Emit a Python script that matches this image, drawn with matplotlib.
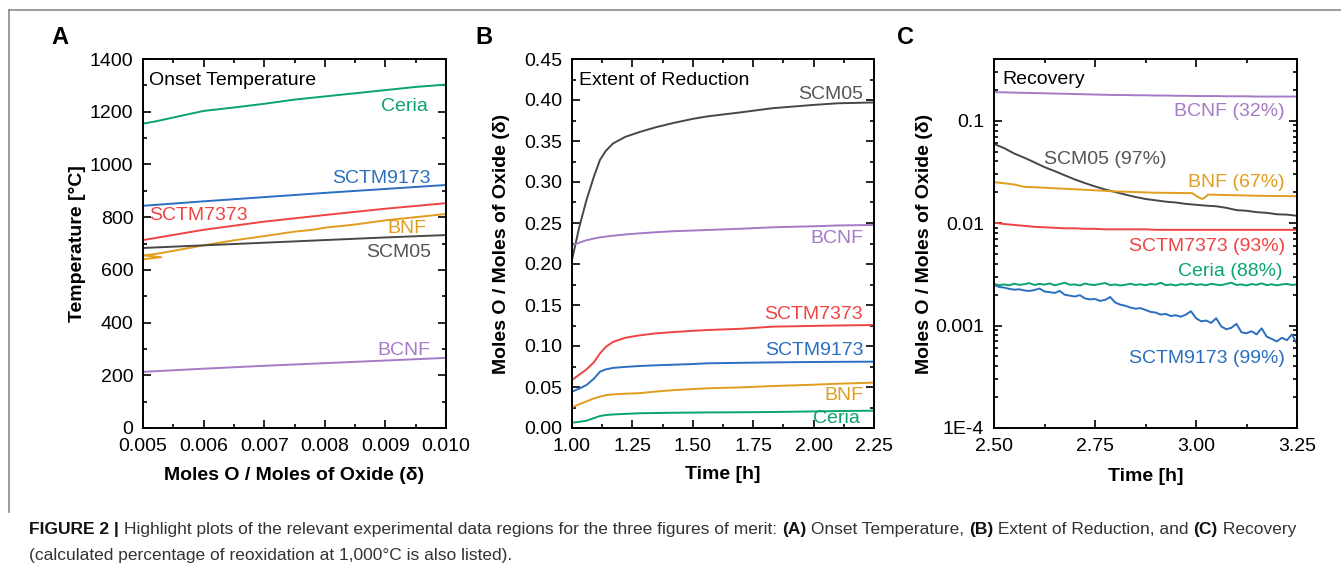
import matplotlib
matplotlib.use("Agg")
import matplotlib.pyplot as plt
from matplotlib.ticker import MultipleLocator, FixedLocator, NullFormatter, LogLocator
from matplotlib.lines import Line2D

plt.rcParams['font.family'] = ['Liberation Sans', 'DejaVu Sans']

# colours
col_ceria = '#0aa56b'
col_9173 = '#2a6fc0'
col_7373 = '#f04444'
col_bnf = '#e19d1f'
col_scm = '#474747'
col_bcnf = '#a57ac6'

# ---- panel A: onset temperature ----
a_x = [0.005, 0.006, 0.007, 0.008, 0.009, 0.010]
a_ceria_x = [0.005, 0.0052, 0.0055, 0.006, 0.0065, 0.007, 0.0075, 0.008, 0.0085, 0.009, 0.0095, 0.010]
a_ceria_y = [1155, 1163, 1178, 1203, 1216, 1230, 1246, 1258, 1270, 1282, 1294, 1303]
a_9173 = [843, 860, 876, 892, 907, 922]
a_7373 = [713, 752, 783, 808, 832, 853]
a_scm = [683, 693, 703, 713, 723, 732]
a_bcnf = [213, 225, 236, 246, 256, 266]
a_bnf_x = [0.005, 0.0053, 0.005, 0.0052, 0.0055, 0.006, 0.0065, 0.007, 0.0075, 0.0078, 0.008, 0.0085, 0.009, 0.0095, 0.010]
a_bnf_y = [640, 648, 655, 660, 672, 693, 712, 728, 745, 752, 760, 772, 788, 800, 812]

# ---- panel B: extent of reduction ----
b_t = [1.0, 1.03, 1.06, 1.09, 1.116, 1.14, 1.17, 1.22, 1.28, 1.35, 1.42, 1.5, 1.56, 1.7, 1.83, 2.0, 2.1, 2.25]
b_scm = [0.205, 0.245, 0.278, 0.306, 0.327, 0.338, 0.347, 0.355, 0.361, 0.367, 0.372, 0.377, 0.380, 0.385, 0.390, 0.394, 0.396, 0.397]
b_bcnf = [0.223, 0.226, 0.229, 0.231, 0.2325, 0.2335, 0.2345, 0.236, 0.2374, 0.2388, 0.240, 0.2408, 0.2415, 0.243, 0.2448, 0.246, 0.247, 0.2476]
b_7373 = [0.0585, 0.065, 0.0715, 0.080, 0.091, 0.099, 0.105, 0.110, 0.113, 0.1155, 0.117, 0.1185, 0.1195, 0.121, 0.1236, 0.1245, 0.125, 0.1256]
b_9173 = [0.0443, 0.048, 0.0524, 0.060, 0.0687, 0.0715, 0.0733, 0.0745, 0.0756, 0.0765, 0.0772, 0.078, 0.0789, 0.0795, 0.080, 0.0805, 0.0807, 0.0809]
b_bnf = [0.0252, 0.029, 0.0325, 0.036, 0.0382, 0.040, 0.041, 0.0418, 0.0425, 0.0445, 0.0462, 0.0475, 0.0484, 0.0495, 0.0512, 0.0528, 0.054, 0.0553]
b_ceria = [0.0065, 0.0075, 0.0089, 0.012, 0.0146, 0.0158, 0.0165, 0.0172, 0.018, 0.0183, 0.0186, 0.0188, 0.019, 0.0192, 0.0195, 0.0202, 0.0207, 0.0211]

# ---- panel C: recovery ----
c_t = [2.500, 2.525, 2.550, 2.575, 2.600, 2.625, 2.650, 2.675, 2.700, 2.725, 2.750,
       2.775, 2.800, 2.825, 2.850, 2.875, 2.900, 2.925, 2.950, 2.975, 3.000,
       3.025, 3.050, 3.075, 3.100, 3.125, 3.150, 3.175, 3.200, 3.225, 3.250]
c_bcnf = [0.190, 0.189, 0.188, 0.187, 0.186, 0.185, 0.184, 0.183, 0.182, 0.181, 0.180,
          0.179, 0.178, 0.178, 0.177, 0.177, 0.176, 0.176, 0.175, 0.175, 0.174,
          0.174, 0.174, 0.173, 0.173, 0.173, 0.172, 0.172, 0.172, 0.172, 0.172]
c_scm = [0.0593, 0.0540, 0.0478, 0.0435, 0.0392, 0.0352, 0.0322, 0.0293, 0.0267, 0.0246, 0.0228,
         0.0213, 0.0201, 0.0190, 0.0180, 0.0172, 0.0167, 0.0162, 0.0159, 0.0154, 0.0151,
         0.0148, 0.0146, 0.0141, 0.0134, 0.0132, 0.0128, 0.0126, 0.0122, 0.0121, 0.0118]
c_7373 = [0.0101, 0.0098, 0.0096, 0.0094, 0.0092, 0.0091, 0.0090, 0.0089, 0.0089, 0.0088, 0.0088,
          0.0087, 0.0087, 0.0087, 0.0087, 0.0087, 0.0086, 0.0086, 0.0086, 0.0086, 0.0086,
          0.0086, 0.0086, 0.0086, 0.0086, 0.0086, 0.0086, 0.0086, 0.0086, 0.0086, 0.0086]
c_bnf_t = [2.500, 2.525, 2.550, 2.575, 2.600, 2.650, 2.700, 2.750, 2.800, 2.850, 2.900,
           2.950, 2.990, 3.005, 3.015, 3.022, 3.030, 3.050, 3.100, 3.150, 3.200, 3.250]
c_bnf = [0.0251, 0.0245, 0.0238, 0.0226, 0.0224, 0.0219, 0.0214, 0.0209, 0.0204, 0.0201, 0.0198,
         0.0197, 0.0196, 0.0180, 0.0172, 0.0178, 0.0190, 0.0189, 0.0187, 0.0185, 0.0184, 0.0183]
c_tf = [2.5000, 2.5125, 2.5250, 2.5375, 2.5500, 2.5625, 2.5750, 2.5875, 2.6000, 2.6125,
        2.6250, 2.6375, 2.6500, 2.6625, 2.6750, 2.6875, 2.7000, 2.7125, 2.7250, 2.7375,
        2.7500, 2.7625, 2.7750, 2.7875, 2.8000, 2.8125, 2.8250, 2.8375, 2.8500, 2.8625,
        2.8750, 2.8875, 2.9000, 2.9125, 2.9250, 2.9375, 2.9500, 2.9625, 2.9750, 2.9875,
        3.0000, 3.0125, 3.0250, 3.0375, 3.0500, 3.0625, 3.0750, 3.0875, 3.1000, 3.1125,
        3.1250, 3.1375, 3.1500, 3.1625, 3.1750, 3.1875, 3.2000, 3.2125, 3.2250, 3.2375,
        3.2500]
c_9173 = [0.00250, 0.00238, 0.00235, 0.00228, 0.00224, 0.00226, 0.00220, 0.00218, 0.00222, 0.00230,
          0.00215, 0.00212, 0.00208, 0.00218, 0.00200, 0.00196, 0.00192, 0.00198, 0.00184, 0.00180,
          0.00182, 0.00174, 0.00178, 0.00190, 0.00168, 0.00160, 0.00156, 0.00150, 0.00146, 0.00148,
          0.00142, 0.00136, 0.00134, 0.00128, 0.00130, 0.00124, 0.00126, 0.00122, 0.00128, 0.00138,
          0.00118, 0.00110, 0.00112, 0.00106, 0.00118, 0.00098, 0.00092, 0.00095, 0.00104, 0.00086,
          0.00084, 0.00088, 0.00082, 0.00094, 0.00078, 0.00074, 0.00070, 0.00076, 0.00072, 0.00082,
          0.00066]
c_ceria = [0.00255, 0.00248, 0.00252, 0.00247, 0.00256, 0.00250, 0.00253, 0.00260, 0.00249, 0.00255,
           0.00251, 0.00258, 0.00247, 0.00254, 0.00262, 0.00250, 0.00252, 0.00246, 0.00257, 0.00251,
           0.00249, 0.00255, 0.00260, 0.00248, 0.00252, 0.00246, 0.00250, 0.00256, 0.00249, 0.00253,
           0.00247, 0.00255, 0.00251, 0.00262, 0.00248, 0.00252, 0.00246, 0.00254, 0.00250, 0.00257,
           0.00249, 0.00253, 0.00247, 0.00256, 0.00251, 0.00248, 0.00255, 0.00262, 0.00249, 0.00252,
           0.00246, 0.00254, 0.00250, 0.00258, 0.00248, 0.00253, 0.00247, 0.00252, 0.00255, 0.00249,
           0.00252]

fig = plt.figure(figsize=(13.41, 5.73), dpi=100)
W, H = 1341, 573

def box(l, t, r, b):
    return [l / W, 1 - b / H, (r - l) / W, (b - t) / H]

axA = fig.add_axes(box(143, 59, 446, 428))
axB = fig.add_axes(box(572, 59, 874, 428))
axC = fig.add_axes(box(994, 59, 1297, 428))

lw = 1.4
fs = 14

def style(ax):
    for s in ax.spines.values():
        s.set_linewidth(1.4)
    ax.tick_params(which='both', direction='in', top=True, right=True, width=1.2, labelsize=fs, pad=7)
    ax.tick_params(which='major', length=6)
    ax.tick_params(which='minor', length=3)

# panel A
axA.plot(a_ceria_x, a_ceria_y, color=col_ceria, lw=lw)
axA.plot(a_x, a_9173, color=col_9173, lw=lw)
axA.plot(a_x, a_7373, color=col_7373, lw=lw)
axA.plot(a_bnf_x, a_bnf_y, color=col_bnf, lw=lw)
axA.plot(a_x, a_scm, color=col_scm, lw=lw)
axA.plot(a_x, a_bcnf, color=col_bcnf, lw=lw)
axA.set_xlim(0.005, 0.010)
axA.set_ylim(0, 1400)
axA.xaxis.set_minor_locator(MultipleLocator(0.0005))
axA.yaxis.set_major_locator(MultipleLocator(200))
axA.yaxis.set_minor_locator(MultipleLocator(100))
axA.set_xticks(a_x)
axA.set_xticklabels(['%.3f' % v for v in a_x])
style(axA)
axA.text(0.0051, 1320, 'Onset Temperature', fontsize=fs, va='center')
axA.text(0.0097, 1218, 'Ceria', color=col_ceria, fontsize=fs, ha='right', va='center')
axA.text(0.00975, 947, 'SCTM9173', color=col_9173, fontsize=fs, ha='right', va='center')
axA.text(0.0051, 808, 'SCTM7373', color=col_7373, fontsize=fs, ha='left', va='center')
axA.text(0.00968, 758, 'BNF', color=col_bnf, fontsize=fs, ha='right', va='center')
axA.text(0.00975, 667, 'SCM05', color='#555555', fontsize=fs, ha='right', va='center')
axA.text(0.00975, 293, 'BCNF', color=col_bcnf, fontsize=fs, ha='right', va='center')
axA.set_xlabel('Moles O / Moles of Oxide (δ)', fontsize=fs, fontweight='bold')
axA.set_ylabel('Temperature [°C]', fontsize=fs, fontweight='bold')
axA.yaxis.set_label_coords(-0.188, 0.5)
axA.xaxis.set_label_coords(0.5, -0.105)

# panel B
axB.plot(b_t, b_scm, color=col_scm, lw=lw)
axB.plot(b_t, b_bcnf, color=col_bcnf, lw=lw)
axB.plot(b_t, b_7373, color=col_7373, lw=lw)
axB.plot(b_t, b_9173, color=col_9173, lw=lw)
axB.plot(b_t, b_bnf, color=col_bnf, lw=lw)
axB.plot(b_t, b_ceria, color=col_ceria, lw=lw)
axB.set_xlim(1.0, 2.25)
axB.set_ylim(0, 0.45)
b_xt = [1.0, 1.25, 1.5, 1.75, 2.0, 2.25]
b_yt = [0.0, 0.05, 0.10, 0.15, 0.20, 0.25, 0.30, 0.35, 0.40, 0.45]
axB.set_xticks(b_xt)
axB.set_xticklabels(['%.2f' % v for v in b_xt])
axB.set_yticks(b_yt)
axB.set_yticklabels(['%.2f' % v for v in b_yt])
axB.xaxis.set_minor_locator(MultipleLocator(0.125))
axB.yaxis.set_minor_locator(MultipleLocator(0.025))
style(axB)
axB.text(1.03, 0.424, 'Extent of Reduction', fontsize=fs, va='center')
xr = 2.205
axB.text(xr, 0.407, 'SCM05', color='#555555', fontsize=fs, ha='right', va='center')
axB.text(xr, 0.231, 'BCNF', color=col_bcnf, fontsize=fs, ha='right', va='center')
axB.text(xr, 0.139, 'SCTM7373', color=col_7373, fontsize=fs, ha='right', va='center')
axB.text(xr, 0.094, 'SCTM9173', color=col_9173, fontsize=fs, ha='right', va='center')
axB.text(xr, 0.040, 'BNF', color=col_bnf, fontsize=fs, ha='right', va='center')
axB.text(2.19, 0.011, 'Ceria', color=col_ceria, fontsize=fs, ha='right', va='center')
axB.set_xlabel('Time [h]', fontsize=fs, fontweight='bold')
axB.set_ylabel('Moles O / Moles of Oxide (δ)', fontsize=fs, fontweight='bold')
axB.yaxis.set_label_coords(-0.206, 0.5)
axB.xaxis.set_label_coords(0.5, -0.103)

# panel C
axC.plot(c_t, c_bcnf, color=col_bcnf, lw=lw)
axC.plot(c_t, c_scm, color=col_scm, lw=lw)
axC.plot(c_bnf_t, c_bnf, color=col_bnf, lw=lw)
axC.plot(c_t, c_7373, color=col_7373, lw=lw)
axC.plot(c_tf, c_ceria, color=col_ceria, lw=lw)
axC.plot(c_tf, c_9173, color=col_9173, lw=lw)
axC.set_yscale('log')
axC.set_xlim(2.5, 3.25)
axC.set_ylim(1e-4, 0.4)
c_xt = [2.5, 2.75, 3.0, 3.25]
axC.set_xticks(c_xt)
axC.set_xticklabels(['%.2f' % v for v in c_xt])
axC.xaxis.set_minor_locator(MultipleLocator(0.125))
axC.yaxis.set_major_locator(FixedLocator([1e-4, 1e-3, 1e-2, 1e-1]))
axC.yaxis.set_minor_locator(LogLocator(base=10, subs=range(2, 10)))
axC.yaxis.set_minor_formatter(NullFormatter())
axC.set_yticklabels(['1E-4', '0.001', '0.01', '0.1'])
style(axC)
axC.text(2.52, 0.25, 'Recovery', fontsize=fs, va='center')
xc = 3.22
axC.text(xc, 0.123, 'BCNF (32%)', color=col_bcnf, fontsize=fs, ha='right', va='center')
axC.text(2.624, 0.0414, 'SCM05 (97%)', color='#555555', fontsize=fs, ha='left', va='center')
axC.text(xc, 0.0249, 'BNF (67%)', color=col_bnf, fontsize=fs, ha='right', va='center')
axC.text(xc, 0.00589, 'SCTM7373 (93%)', color=col_7373, fontsize=fs, ha='right', va='center')
axC.text(3.213, 0.00336, 'Ceria (88%)', color=col_ceria, fontsize=fs, ha='right', va='center')
axC.text(xc, 0.00048, 'SCTM9173 (99%)', color=col_9173, fontsize=fs, ha='right', va='center')
axC.set_xlabel('Time [h]', fontsize=fs, fontweight='bold')
axC.set_ylabel('Moles O / Moles of Oxide (δ)', fontsize=fs, fontweight='bold')
axC.yaxis.set_label_coords(-0.202, 0.5)
axC.xaxis.set_label_coords(0.5, -0.108)

# panel letters
for xp, lab in [(51, 'A'), (475, 'B'), (897, 'C')]:
    fig.text(xp / W, 1 - 37 / H, lab, fontsize=17, fontweight='bold', va='center')

# frame lines
fig.add_artist(Line2D([9 / W, 1.0], [1 - 10 / H, 1 - 10 / H], color='#8a8a8a', lw=1.2))
fig.add_artist(Line2D([9 / W, 9 / W], [1 - 10 / H, 1 - 512 / H], color='#8a8a8a', lw=1.2))

# caption with mixed weights
cap_fs = 12.5
renderer = fig.canvas.get_renderer()

def seg_line(x0, y0, segs):
    x = x0
    for txt, bold in segs:
        t = fig.text(x / W, 1 - y0 / H, txt, fontsize=cap_fs,
                     fontweight='bold' if bold else 'normal', va='baseline',
                     color='#111111' if bold else '#333333')
        bb = t.get_window_extent(renderer)
        x += bb.width

seg_line(29, 534, [('FIGURE 2', True), (' | ', True),
                   ('Highlight plots of the relevant experimental data regions for the three figures of merit: ', False),
                   ('(A)', True), (' Onset Temperature, ', False), ('(B)', True),
                   (' Extent of Reduction, and ', False), ('(C)', True), (' Recovery', False)])
seg_line(29, 560, [('(calculated percentage of reoxidation at 1,000°C is also listed).', False)])

fig.savefig('out.png', dpi=100)
